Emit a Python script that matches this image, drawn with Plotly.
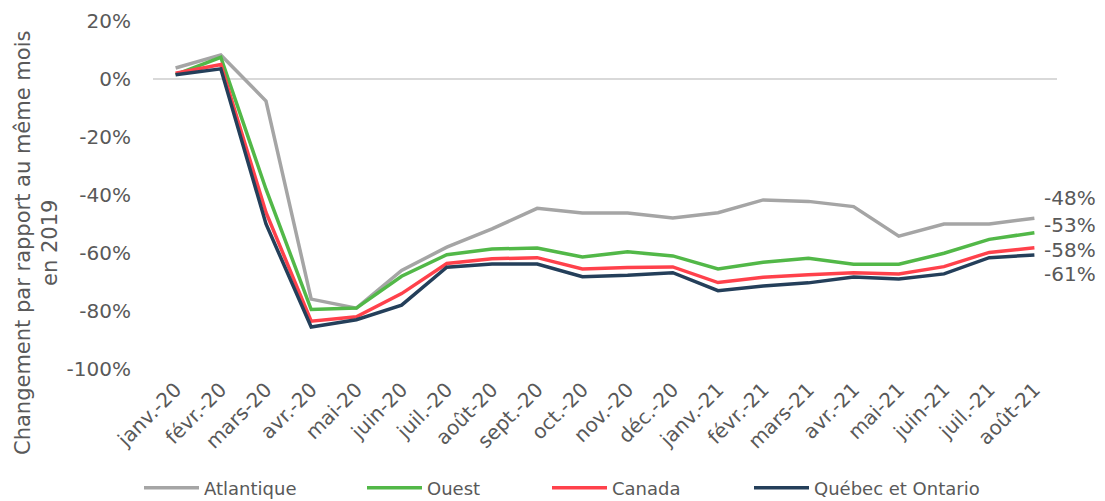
import plotly.graph_objects as go

months = ["janv.-20", "févr.-20", "mars-20", "avr.-20", "mai-20", "juin-20", "juil.-20",
          "août-20", "sept.-20", "oct.-20", "nov.-20", "déc.-20", "janv.-21", "févr.-21",
          "mars-21", "avr.-21", "mai-21", "juin-21", "juil.-21", "août-21"]

atlantique = [3.8, 8.3, -7.6, -75.9, -79.0, -66.0, -58.0, -51.7, -44.6, -46.2, -46.2, -47.9,
              -46.1, -41.7, -42.2, -44.0, -54.2, -50.0, -50.0, -48.0]
ouest = [1.5, 7.5, -38.0, -79.5, -79.0, -68.0, -60.6, -58.6, -58.3, -61.4, -59.6, -61.0,
         -65.5, -63.2, -61.8, -63.9, -63.9, -60.1, -55.3, -53.0]
canada = [2.0, 5.0, -46.0, -83.5, -82.0, -74.0, -63.6, -62.0, -61.6, -65.5, -65.0, -64.8,
          -70.2, -68.4, -67.5, -66.8, -67.2, -64.7, -59.8, -58.2]
quebec_ontario = [1.5, 3.5, -50.0, -85.5, -83.0, -78.0, -64.9, -63.8, -63.8, -68.2, -67.7, -66.8,
                  -73.0, -71.4, -70.3, -68.3, -69.0, -67.2, -61.6, -60.7]

y_ticks = [20, 0, -20, -40, -60, -80, -100]
y_tick_text = ["20%", "0%", "-20%", "-40%", "-60%", "-80%", "-100%"]

series = [
    ("Atlantique", atlantique, "#A5A5A5"),
    ("Ouest", ouest, "#52B848"),
    ("Canada", canada, "#FF414B"),
    ("Québec et Ontario", quebec_ontario, "#243F5A"),
]
end_label_shift = {"Atlantique": 20, "Ouest": 8, "Canada": -2, "Québec et Ontario": -19}
legend_x_px = [145, 368, 553, 755]   # left edge of each legend swatch (pixels)

FONT = "'DejaVu Sans', sans-serif"
GREY = "#595959"
PLOT_L, PLOT_R, PLOT_T, PLOT_B = 153, 1057, 21, 369
PW = PLOT_R - PLOT_L
PH = PLOT_B - PLOT_T

fig = go.Figure()
legend_layout = {}
for i, (name, vals, col) in enumerate(series):
    lg = "legend" if i == 0 else f"legend{i + 1}"
    fig.add_trace(go.Scatter(x=months, y=vals, name=name, mode="lines",
                             line=dict(color=col, width=3.5), legend=lg))
    legend_layout[lg] = dict(
        orientation="h", xanchor="left", yanchor="middle",
        x=(legend_x_px[i] - 6 - PLOT_L) / PW, y=(PLOT_B - 488) / PH,
        font=dict(family=FONT, size=18, color=GREY),
        itemwidth=55, bgcolor="rgba(0,0,0,0)")

for name, vals, col in series:
    fig.add_annotation(x=months[-1], y=vals[-1], text=f"{round(vals[-1]):d}%",
                       showarrow=False, xanchor="left", xshift=8,
                       yshift=end_label_shift[name],
                       font=dict(family=FONT, size=20, color=GREY))

fig.add_annotation(xref="paper", yref="paper", x=(36 - PLOT_L) / PW, y=(PLOT_B - 243) / PH,
                   text="Changement par rapport au même mois<br>en 2019",
                   textangle=-90, showarrow=False, xanchor="center", yanchor="middle",
                   font=dict(family=FONT, size=21, color=GREY))

fig.update_layout(
    width=1105, height=501,
    margin=dict(l=PLOT_L, r=1105 - PLOT_R, t=PLOT_T, b=501 - PLOT_B, autoexpand=False),
    paper_bgcolor="white", plot_bgcolor="white",
    font=dict(family=FONT, color=GREY),
    showlegend=True,
    xaxis=dict(type="category", range=[-0.5, 19.5], tickangle=-45, automargin=False,
               tickfont=dict(family=FONT, size=20, color=GREY), ticklabelstandoff=4,
               showgrid=False, showline=False, ticks="", zeroline=False),
    yaxis=dict(range=[-100, 20], tickvals=y_ticks, ticktext=y_tick_text, automargin=False,
               tickfont=dict(family=FONT, size=20, color=GREY), ticklabelstandoff=21,
               showgrid=False, showline=False, ticks="",
               zeroline=True, zerolinecolor="#D9D9D9", zerolinewidth=1.5),
    **legend_layout,
)

fig.write_html("out.html")
